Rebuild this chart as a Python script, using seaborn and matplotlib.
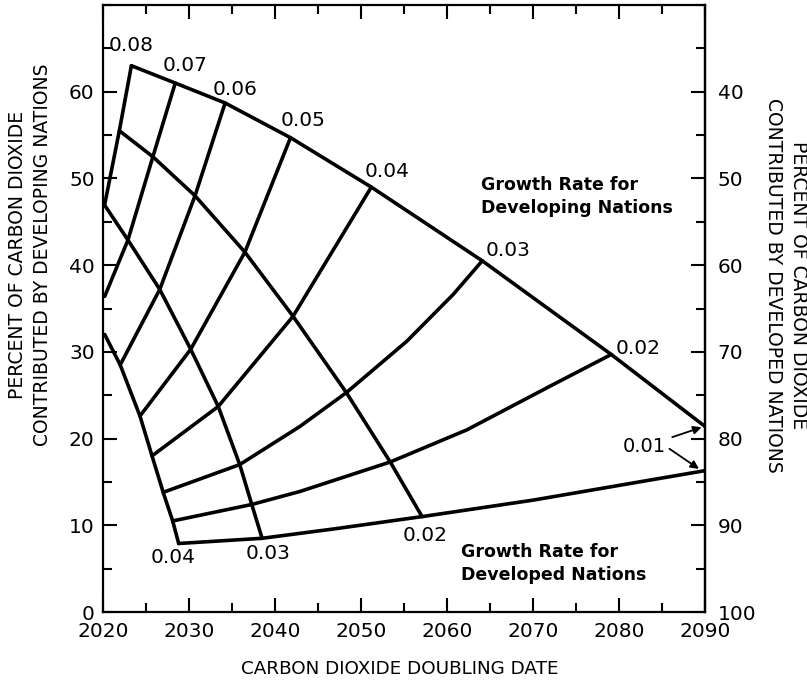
import matplotlib
matplotlib.use("Agg")
import matplotlib.pyplot as plt
from matplotlib.ticker import MultipleLocator
import pandas as pd
import seaborn as sns

# Lines of constant growth rate for developing nations
d08_year = [2023.3, 2021.9, 2020.2]
d08_pct = [63.0, 55.5, 47.0]
d07_year = [2028.4, 2025.8, 2022.9, 2020.2]
d07_pct = [61.0, 52.5, 42.9, 36.4]
d06_year = [2034.2, 2030.7, 2026.6, 2022.0]
d06_pct = [58.7, 48.0, 37.2, 28.5]
d05_year = [2041.8, 2036.5, 2030.2, 2024.3]
d05_pct = [54.7, 41.5, 30.3, 22.6]
d04_year = [2051.2, 2042.1, 2033.4, 2025.7]
d04_pct = [49.0, 34.1, 23.7, 18.0]
d03_year = [2064.1, 2060.7, 2055.3, 2048.3, 2042.9, 2035.9, 2027.0]
d03_pct = [40.5, 36.6, 31.2, 25.3, 21.4, 17.0, 13.8]
d02_year = [2079.1, 2071.9, 2062.3, 2053.4, 2042.9, 2037.3, 2028.1]
d02_pct = [29.7, 26.0, 21.0, 17.3, 13.9, 12.4, 10.5]
d01_year = [2028.8, 2038.5, 2047.0, 2057.1, 2070.0, 2080.0, 2090.0]
d01_pct = [7.9, 8.5, 9.6, 11.0, 12.9, 14.6, 16.3]

# Lines of constant growth rate for developed nations
e04_year = [2020.2, 2022.0, 2024.3, 2025.7, 2027.0, 2028.1, 2028.8]
e04_pct = [32.0, 28.5, 22.6, 18.0, 13.8, 10.5, 7.9]
e03_year = [2020.2, 2022.9, 2026.6, 2030.2, 2033.4, 2035.9, 2037.3, 2038.5]
e03_pct = [46.9, 42.9, 37.2, 30.3, 23.7, 17.0, 12.4, 8.5]
e02_year = [2021.9, 2025.8, 2030.7, 2036.5, 2042.1, 2048.3, 2053.4, 2057.1]
e02_pct = [55.5, 52.5, 48.0, 41.5, 34.1, 25.3, 17.3, 11.0]
e01_year = [2023.3, 2028.4, 2034.2, 2041.8, 2051.2, 2064.1, 2079.1, 2090.0]
e01_pct = [63.0, 61.0, 58.7, 54.7, 49.0, 40.5, 29.7, 21.4]

# Rate labels
top_labels = ["0.08", "0.07", "0.06", "0.05", "0.04", "0.03", "0.02"]
top_label_year = [2023.3, 2029.5, 2035.3, 2043.3, 2053.0, 2067.1, 2082.2]
top_label_pct = [65.3, 63.0, 60.3, 56.7, 50.8, 41.7, 30.4]
bottom_labels = ["0.04", "0.03", "0.02"]
bottom_label_year = [2028.1, 2039.2, 2057.5]
bottom_label_pct = [6.3, 6.8, 8.8]

x_ticks = [2020, 2030, 2040, 2050, 2060, 2070, 2080, 2090]
left_ticks = [0, 10, 20, 30, 40, 50, 60]
right_ticks = [40, 50, 60, 70, 80, 90, 100]

curves = {
    "dev 0.08": (d08_year, d08_pct), "dev 0.07": (d07_year, d07_pct),
    "dev 0.06": (d06_year, d06_pct), "dev 0.05": (d05_year, d05_pct),
    "dev 0.04": (d04_year, d04_pct), "dev 0.03": (d03_year, d03_pct),
    "dev 0.02": (d02_year, d02_pct), "dev 0.01": (d01_year, d01_pct),
    "ind 0.04": (e04_year, e04_pct), "ind 0.03": (e03_year, e03_pct),
    "ind 0.02": (e02_year, e02_pct), "ind 0.01": (e01_year, e01_pct),
}
rows = []
for name, (yrs, pcts) in curves.items():
    for yr, pc in zip(yrs, pcts):
        rows.append({"curve": name, "year": yr, "pct": pc})
df = pd.DataFrame(rows)

sns.set_style("ticks")
plt.rcParams["font.family"] = ["DejaVu Sans"]
plt.rcParams["text.color"] = "black"
plt.rcParams["axes.labelcolor"] = "black"
plt.rcParams["xtick.color"] = "black"
plt.rcParams["ytick.color"] = "black"

fig = plt.figure(figsize=(8.07, 6.83), dpi=100)
ax = fig.add_axes([103 / 807, 71 / 683, 602 / 807, 607 / 683])

sns.lineplot(data=df, x="year", y="pct", units="curve", estimator=None,
             sort=False, color="black", linewidth=2.6, ax=ax, legend=False)

ax.set_xlim(2020, 2090)
ax.set_ylim(0, 70)
ax.set_xticks(x_ticks)
ax.set_yticks(left_ticks)
ax.xaxis.set_minor_locator(MultipleLocator(5))
ax.yaxis.set_minor_locator(MultipleLocator(5))
ax.tick_params(which="both", direction="in", top=True, right=False,
               width=1.5, colors="black", labelsize=14.5)
ax.tick_params(which="major", length=10)
ax.tick_params(which="minor", length=6.5)
ax.tick_params(axis="x", pad=7)
ax.tick_params(axis="y", pad=6)
for s in ax.spines.values():
    s.set_linewidth(1.6)
    s.set_color("black")
ax.set_xlabel("")
ax.set_ylabel("")

sec = ax.secondary_yaxis("right", functions=(lambda v: 100 - v, lambda v: 100 - v))
sec.set_yticks(right_ticks)
sec.yaxis.set_minor_locator(MultipleLocator(5))
sec.tick_params(which="both", direction="in", width=1.5, colors="black",
                labelsize=14.5, pad=9)
sec.tick_params(which="major", length=10)
sec.tick_params(which="minor", length=6.5)
sec.spines["right"].set_linewidth(1.6)
sec.spines["right"].set_color("black")

for lab, x, y in zip(top_labels, top_label_year, top_label_pct):
    ax.text(x, y, lab, ha="center", va="center", fontsize=14.5, color="black")
for lab, x, y in zip(bottom_labels, bottom_label_year, bottom_label_pct):
    ax.text(x, y, lab, ha="center", va="center", fontsize=14.5, color="black")

arrow = dict(arrowstyle="-|>", color="black", lw=1.3, mutation_scale=12,
             shrinkA=2, shrinkB=0)
ax.annotate("0.01", xy=(2089.6, 21.3), xytext=(2083.0, 19.1), color="black",
            ha="center", va="center", fontsize=14, arrowprops=arrow)
ax.annotate("", xy=(2089.3, 16.5), xytext=(2085.6, 19.0), arrowprops=arrow)

ax.text(2064.0, 47.9, "Growth Rate for\nDeveloping Nations", ha="left",
        va="center", fontsize=12.5, fontweight="semibold", linespacing=1.35,
        color="black")
ax.text(2061.6, 5.6, "Growth Rate for\nDeveloped Nations", ha="left",
        va="center", fontsize=12.5, fontweight="semibold", linespacing=1.35,
        color="black")

fig.text(400 / 807, 1 - 669 / 683, "CARBON DIOXIDE DOUBLING DATE",
         ha="center", va="center", fontsize=13.2, color="black")
fig.text(30 / 807, 1 - 255 / 683,
         "PERCENT OF CARBON DIOXIDE\nCONTRIBUTED BY DEVELOPING NATIONS",
         ha="center", va="center", rotation=90, fontsize=13.5, linespacing=1.45,
         color="black")
fig.text(786 / 807, 1 - 285 / 683,
         "PERCENT OF CARBON DIOXIDE\nCONTRIBUTED BY DEVELOPED NATIONS",
         ha="center", va="center", rotation=270, fontsize=13.5, linespacing=1.45,
         color="black")

fig.savefig("out.png", dpi=100)
